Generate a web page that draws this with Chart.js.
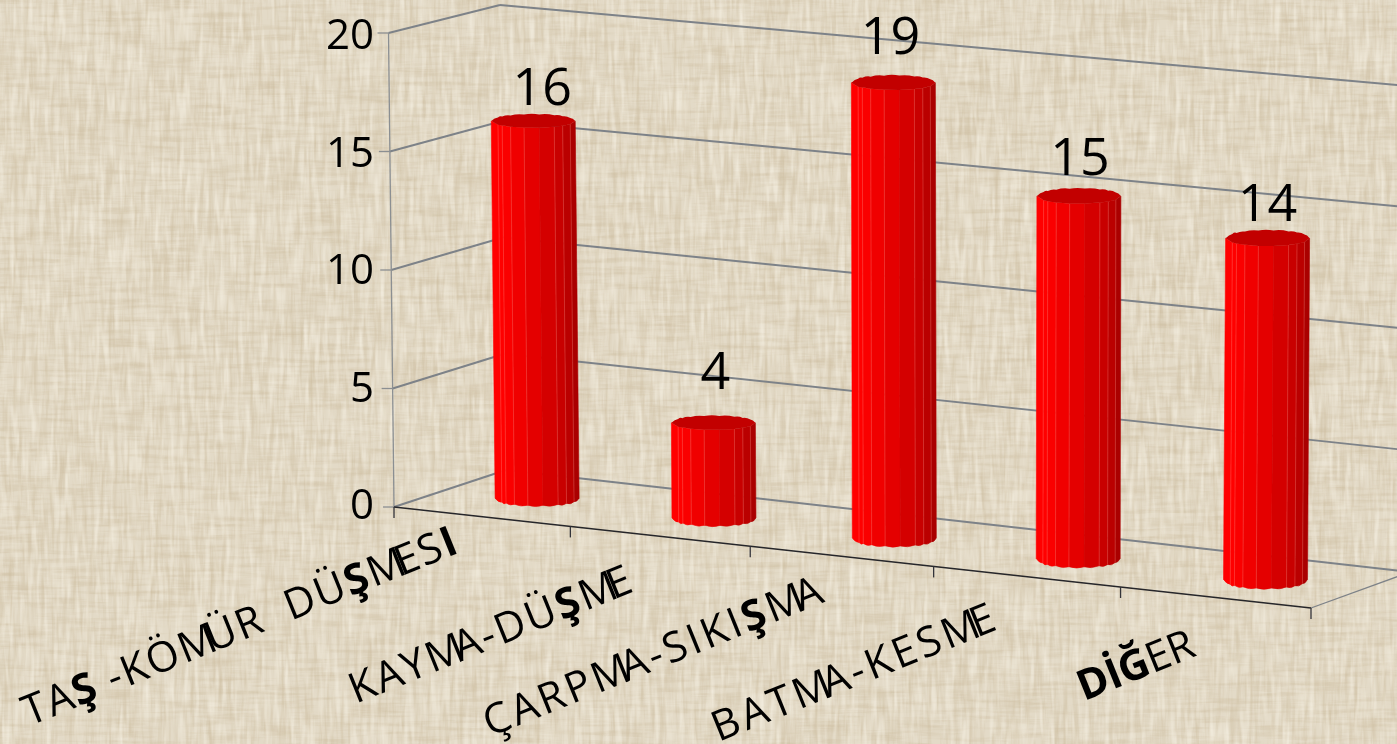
<!DOCTYPE html>
<html>
<head>
<meta charset="utf-8">
<title>Kaza türleri</title>
<script src="https://cdn.jsdelivr.net/npm/chart.js@4"></script>
<style>
  html, body { margin: 0; height: 100%; overflow: hidden; background-color: #e3dac7; }
  body {
    background-image:
      url("data:image/svg+xml;utf8,<svg xmlns='http://www.w3.org/2000/svg' width='1397' height='744'><filter id='a' x='0' y='0' width='100%' height='100%'><feTurbulence type='fractalNoise' baseFrequency='0.02 0.22' numOctaves='3' seed='4'/><feColorMatrix values='0 0 0 0 0.60  0 0 0 0 0.50  0 0 0 0 0.34  1.2 0 0 0 -0.5'/><feGaussianBlur stdDeviation='0.7'/></filter><filter id='b' x='0' y='0' width='100%' height='100%'><feTurbulence type='fractalNoise' baseFrequency='0.22 0.02' numOctaves='3' seed='9'/><feColorMatrix values='0 0 0 0 0.60  0 0 0 0 0.50  0 0 0 0 0.34  1.2 0 0 0 -0.5'/><feGaussianBlur stdDeviation='0.7'/></filter><filter id='c' x='0' y='0' width='100%' height='100%'><feTurbulence type='fractalNoise' baseFrequency='0.2 0.025' numOctaves='2' seed='21'/><feColorMatrix values='0 0 0 0 1  0 0 0 0 0.97  0 0 0 0 0.88  1.1 0 0 0 -0.48'/><feGaussianBlur stdDeviation='0.7'/></filter><rect width='1397' height='744' filter='url(%23a)'/><rect width='1397' height='744' filter='url(%23b)'/><rect width='1397' height='744' filter='url(%23c)'/></svg>");
  }
  canvas { display: block; }
</style>
</head>
<body>
<canvas id="kazaChart" width="1397" height="744"></canvas>
<script>
const categories = ["TAŞ -KÖMÜR  DÜŞMESI", "KAYMA-DÜŞME", "ÇARPMA-SIKIŞMA", "BATMA-KESME", "DİĞER"];
const values = [16, 4, 19, 15, 14];
const boldLetters = [[2, 14, 18], [8], [11], [], [0, 1, 2]]; // these glyphs came out heavier in the original
const maxValue = 20;
const tickStep = 5;

// corners of the 3D box on screen
const box = {
  frontLeft0: [394, 507], frontLeft20: [388.5, 33],
  frontRight0: [1311, 608], frontRight20: [1309, 114],
  backLeft0: [506, 470], backLeft20: [500, 5],
  backRight0: [1410, 572], backRight20: [1420, 87],
};

const labelSize = 42;
const labelAngle = 22 * Math.PI / 180;
const labelNudge = [[-20, 35], [-23, 54], [-13, 44], [-25, 51], [-18, 58]];
const labelTracking = [1.7, 2.2, 3.1, 3.4, -0.5];
const valueNudge = [[9, -31], [2, -49], [-3, -44], [1, -36], [0, -32]];

// where the facet edges sit across the width of a column, 0 to 1
const facets = [0, 0.08, 0.13, 0.23, 0.39, 0.57, 0.75, 0.85, 0.94, 1];
const facetReds = [255, 255, 250, 240, 228, 212, 200, 186, 170];

const lerp = (a, b, t) => a + (b - a) * t;
const lerpPt = (a, b, t) => [lerp(a[0], b[0], t), lerp(a[1], b[1], t)];

// plot pixel + depth (0 front, 1 back wall) to screen position
function project(area, px, py, depth) {
  let u = (px - area.left) / (area.right - area.left);
  u = u + 0.048 * u * (u - 1);
  const t = (area.bottom - py) / (area.bottom - area.top);
  const front = lerpPt(lerpPt(box.frontLeft0, box.frontRight0, u), lerpPt(box.frontLeft20, box.frontRight20, u), t);
  const back = lerpPt(lerpPt(box.backLeft0, box.backRight0, u), lerpPt(box.backLeft20, box.backRight20, u), t);
  return lerpPt(front, back, depth);
}

function line(ctx, a, b, color, width) {
  ctx.strokeStyle = color;
  ctx.lineWidth = width;
  ctx.beginPath();
  ctx.moveTo(a[0], a[1]);
  ctx.lineTo(b[0], b[1]);
  ctx.stroke();
}

function drawBox(chart) {
  const ctx = chart.ctx;
  const area = chart.chartArea;
  const yScale = chart.scales.y;
  const xScale = chart.scales.x;
  ctx.save();
  yScale.ticks.forEach((tick) => {
    const py = yScale.getPixelForValue(tick.value);
    const a = project(area, area.left, py, 0);
    const b = project(area, area.left, py, 1);
    // the back right corner is off screen
    const c = project(area, area.right, py, 1);
    line(ctx, [a[0] - 11, a[1]], a, "#8b8f92", 1.3);
    line(ctx, a, b, "#7d8288", 1.9);
    line(ctx, b, c, "#7d8288", 1.9);
  });
  // left edge, floor side and front axis
  line(ctx, project(area, area.left, area.top, 0), project(area, area.left, area.bottom, 0), "#8b8f92", 1.3);
  line(ctx, project(area, area.right, area.bottom, 0), project(area, area.right, area.bottom, 1), "#7d8288", 1.3);
  line(ctx, project(area, area.left, area.bottom, 0), project(area, area.right, area.bottom, 0), "#26262a", 1.7);
  const step = xScale.width / categories.length;
  for (let i = 0; i <= categories.length; i++) {
    const p = project(area, xScale.left + i * step, area.bottom, 0);
    line(ctx, p, [p[0], p[1] + 11], "#33343a", 1.3);
  }
  ctx.restore();
}

function drawCylinder(ctx, bottom, top, rx, ryTop, ryBottom) {
  const edge = (c, ry, o, sign) => {
    const s = 2 * o - 1;
    return [c[0] + s * rx, c[1] + sign * ry * Math.sqrt(1 - s * s)];
  };
  const scallop = (points, bulge) => {
    for (let i = 1; i < points.length; i++) {
      const m = lerpPt(points[i - 1], points[i], 0.5);
      ctx.quadraticCurveTo(m[0], m[1] + bulge, points[i][0], points[i][1]);
    }
  };

  // sides, one polygon per facet
  for (let k = 0; k < facets.length - 1; k++) {
    const a = facets[k];
    const b = facets[k + 1];
    const p1 = edge(top, ryTop, a, 1);
    const p2 = edge(top, ryTop, b, 1);
    const p3 = edge(bottom, ryBottom, b, 1);
    const p4 = edge(bottom, ryBottom, a, 1);
    ctx.fillStyle = `rgb(${facetReds[k]},0,0)`;
    ctx.beginPath();
    ctx.moveTo(p1[0], p1[1]);
    ctx.lineTo(p2[0], p2[1]);
    ctx.lineTo(p3[0], p3[1]);
    ctx.quadraticCurveTo((p3[0] + p4[0]) / 2, (p3[1] + p4[1]) / 2 + 2.5, p4[0], p4[1]);
    ctx.closePath();
    ctx.fill();
    ctx.strokeStyle = `rgb(${facetReds[k]},0,0)`;
    ctx.lineWidth = 0.6;
    ctx.stroke();
  }
  for (let k = 1; k < facets.length - 1; k++) {
    if (k === 5) continue;
    line(ctx, edge(top, ryTop, facets[k], 1), edge(bottom, ryBottom, facets[k], 1), "rgba(255,130,120,0.4)", 0.8);
  }

  // lid
  const far = facets.map((o) => edge(top, ryTop, o, -1));
  const near = facets.map((o) => edge(top, ryTop, o, 1)).reverse();
  ctx.fillStyle = "#c20000";
  ctx.beginPath();
  ctx.moveTo(far[0][0], far[0][1]);
  scallop(far, -1.5);
  scallop(near, 0);
  ctx.closePath();
  ctx.fill();
}

function drawCategoryLabel(ctx, text, bold, tracking, x, y) {
  // split into runs: weight changes, and the M swallows part of the next letter
  const runs = [];
  let cur = null;
  Array.from(text).forEach((ch, i) => {
    const isBold = bold.includes(i);
    if (!cur || cur.bold !== isBold || cur.afterM) {
      cur = { text: "", bold: isBold, afterM: false };
      runs.push(cur);
    }
    cur.text += ch;
    if (ch === "M") cur.afterM = true;
  });
  const fontFor = (r) => `${r.bold ? "bold " : ""}${labelSize}px "Open Sans"`;
  ctx.save();
  ctx.letterSpacing = `${tracking}px`;
  let total = 0;
  runs.forEach((r) => {
    ctx.font = fontFor(r);
    r.width = ctx.measureText(r.text).width - (r.afterM ? 10 : 0);
    total += r.width;
  });
  ctx.translate(x, y);
  ctx.rotate(-labelAngle);
  ctx.textAlign = "left";
  ctx.textBaseline = "alphabetic";
  ctx.fillStyle = "#000";
  let pos = -total;
  runs.forEach((r) => {
    ctx.font = fontFor(r);
    ctx.fillText(r.text, pos, 0);
    pos += r.width;
  });
  ctx.restore();
}

const cylinderPlugin = {
  id: "cylinders",
  beforeDatasetsDraw(chart) {
    drawBox(chart);
  },
  afterDatasetsDraw(chart) {
    const ctx = chart.ctx;
    const area = chart.chartArea;
    const bars = chart.getDatasetMeta(0).data;
    ctx.save();
    bars.forEach((bar, i) => {
      const u = (bar.x - area.left) / (area.right - area.left);
      const bottom = project(area, bar.x, bar.base, 0.5);
      const top = project(area, bar.x, bar.y, 0.5);
      drawCylinder(ctx, bottom, top, 42, 6.5 + 1.5 * u, 7 + 2 * u);

      ctx.font = '52px "Open Sans"';
      ctx.fillStyle = "#000";
      ctx.textAlign = "center";
      ctx.textBaseline = "middle";
      ctx.fillText(String(values[i]), top[0] + valueNudge[i][0], top[1] + valueNudge[i][1]);

      const foot = project(area, bar.x, area.bottom, 0);
      drawCategoryLabel(ctx, categories[i], boldLetters[i], labelTracking[i], foot[0] + labelNudge[i][0], foot[1] + labelNudge[i][1]);
    });
    ctx.restore();
  },
};

new Chart(document.getElementById("kazaChart"), {
  type: "bar",
  data: {
    labels: categories,
    datasets: [{ data: values, backgroundColor: "transparent", borderWidth: 0 }],
  },
  options: {
    responsive: false,
    animation: false,
    events: [],
    layout: { padding: { left: 284, right: 86, top: 33, bottom: 237 } },
    plugins: { legend: { display: false }, tooltip: { enabled: false } },
    scales: {
      x: { display: false },
      y: {
        min: 0,
        max: maxValue,
        afterFit: (scale) => { scale.width = 110; },
        grid: { display: false },
        border: { display: false },
        ticks: {
          stepSize: tickStep,
          padding: 12,
          color: "#000",
          font: { family: "Open Sans", size: 42 },
        },
      },
    },
  },
  plugins: [cylinderPlugin],
});
</script>
</body>
</html>
